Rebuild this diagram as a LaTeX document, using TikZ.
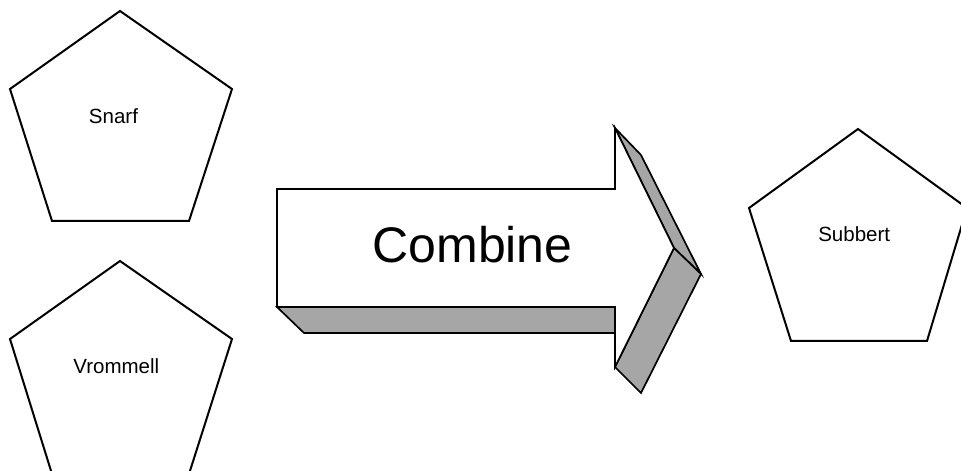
\documentclass[tikz,border=0pt]{standalone}
\usepackage{fontspec}
\setmainfont{Liberation Sans}
\definecolor{bevel}{RGB}{166,166,166}
\tikzset{
  pentline/.style={draw=black, line width=2bp, fill=white},
  arrline/.style={draw=black, line width=1.7bp, line join=miter},
  bevelface/.style={arrline, fill=bevel},
  frontface/.style={arrline, fill=white},
  smalltxt/.style={inner sep=0pt, anchor=base, font=\fontsize{20.6pt}{24pt}\selectfont},
  bigtxt/.style={inner sep=0pt, anchor=base, font=\fontsize{50.2pt}{60pt}\selectfont}
}
\begin{document}
\begin{tikzpicture}[x=1bp,y=-1bp]
\useasboundingbox (0,0) rectangle (961,471);
\clip (0,0) rectangle (961,471);
% pentagons
\draw[pentline] (120,11) -- (232,89) -- (189,221) -- (52,221) -- (10,89) -- cycle;
\draw[pentline] (120,261) -- (232,339) -- (189,474) -- (52,474) -- (10,339) -- cycle;
\draw[pentline] (858,129) -- (967,208) -- (927,341) -- (791,341) -- (749,208) -- cycle;
\node[smalltxt] (snarf) at (113.5,123.3) {Snarf};
\node[smalltxt] (vrommell) at (116.3,374) {Vrommell};
\node[smalltxt] (subbert) at (854.2,241.7) {Subbert};
% 3D arrow
\coordinate (fLT) at (277,189);
\coordinate (fST) at (615,189);
\coordinate (fHT) at (615,128);
\coordinate (fTip) at (674,248);
\coordinate (fHB) at (615,367);
\coordinate (fSB) at (615,307);
\coordinate (fLB) at (277,307);
\coordinate (bHT) at (641,155);
\coordinate (bTip) at (701,274);
\coordinate (bHB) at (641,393);
\coordinate (bSB) at (641,333);
\coordinate (bLB) at (304,333);
\draw[bevelface] (fLB) -- (fSB) -- (bSB) -- (bLB) -- cycle;
\draw[bevelface] (fHT) -- (fTip) -- (bTip) -- (bHT) -- cycle;
\draw[bevelface] (fTip) -- (fHB) -- (bHB) -- (bTip) -- cycle;
\draw[frontface] (fLT) -- (fST) -- (fHT) -- (fTip) -- (fHB) -- (fSB) -- (fLB) -- cycle;
\node[bigtxt] (combine) at (472.5,263) {Combine};
\end{tikzpicture}
\end{document}
